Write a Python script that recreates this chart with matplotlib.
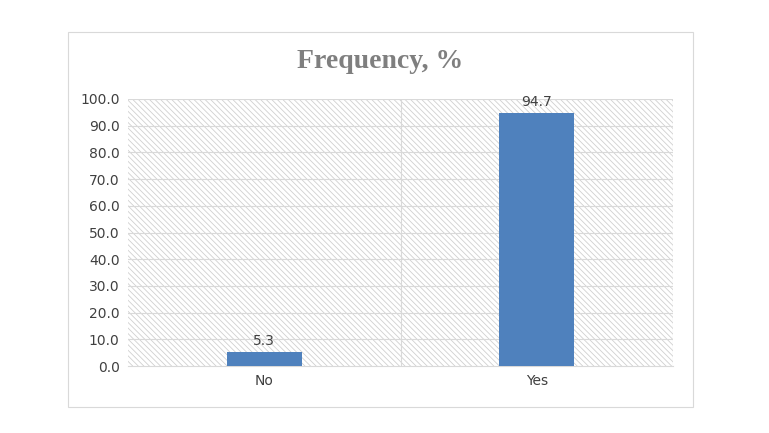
import matplotlib.pyplot as plt
from matplotlib.patches import Rectangle
import matplotlib as mpl

categories = ["No", "Yes"]
values = [5.3, 94.7]
yticks = [0, 10, 20, 30, 40, 50, 60, 70, 80, 90, 100]

mpl.rcParams['hatch.color'] = '#d0d0d0'
mpl.rcParams['hatch.linewidth'] = 0.6

fig = plt.figure(figsize=(7.69, 4.33), dpi=100)
# outer chart border
fig.patches.append(Rectangle((68 / 769, 1 - 407 / 433), 625 / 769, 375 / 433,
                             transform=fig.transFigure, fill=False,
                             edgecolor='#d9d9d9', linewidth=0.8))

ax = fig.add_axes([128 / 769, 1 - 366 / 433, 545 / 769, 267 / 433])
ax.add_patch(Rectangle((0, 0), 1, 1, transform=ax.transAxes, facecolor='white',
                       hatch='\\\\\\\\\\\\', edgecolor='#d0d0d0', linewidth=0, zorder=0))

x = list(range(len(categories)))
bars = ax.bar(x, values, width=0.275, color='#4f81bd', zorder=3)
for xi, v in zip(x, values):
    ax.text(xi, v + 1.5, f"{v:.1f}", ha='center', va='bottom', fontsize=10, color='#404040')

ax.set_xlim(-0.5, 1.5)
ax.set_ylim(0, 100)
ax.set_yticks(yticks)
ax.set_yticklabels([f"{t:.1f}" for t in yticks], fontsize=10, color='#404040')
ax.set_xticks(x)
ax.set_xticklabels(categories, fontsize=10, color='#404040')
ax.tick_params(length=0, pad=6)
for t in yticks[1:]:
    ax.axhline(t, color='#d9d9d9', linewidth=0.8, zorder=1)
ax.axvline(0.5, color='#d9d9d9', linewidth=0.8, zorder=1)
ax.axvline(1.5, color='#d9d9d9', linewidth=0.8, zorder=1)
for s in ['top', 'right', 'left']:
    ax.spines[s].set_visible(False)
ax.spines['bottom'].set_color('#d9d9d9')

fig.text(380 / 769, 1 - 62 / 433, "Frequency, %", ha='center', va='center',
         fontsize=20, fontweight='bold', family='Liberation Serif', color='#7f7f7f')

fig.savefig("out.png", dpi=100)
